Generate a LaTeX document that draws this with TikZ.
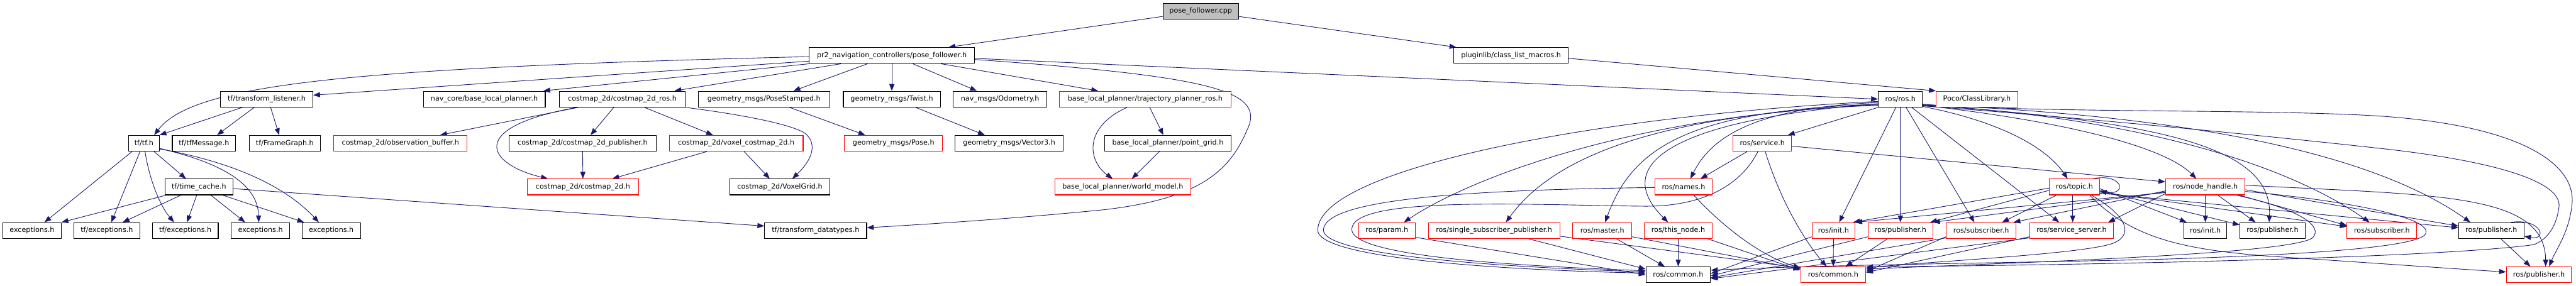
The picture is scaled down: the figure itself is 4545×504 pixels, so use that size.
\documentclass[tikz,border=0pt]{standalone}
\usepackage{fontspec}
\setmainfont{DejaVu Sans}
\usetikzlibrary{arrows.meta,calc,backgrounds}
\definecolor{edgec}{HTML}{191970}
\definecolor{redb}{HTML}{FF0000}
\definecolor{grayf}{HTML}{BFBFBF}
\begin{document}
\begin{tikzpicture}[x=1pt,y=-1pt,
  nb/.style={draw=black, line width=1.2pt, minimum height=28pt, inner sep=0pt, fill=white, font=\fontsize{12.4pt}{14pt}\selectfont},
  nr/.style={nb, draw=redb},
  ng/.style={nb, fill=grayf},
  e/.style={draw=edgec, line width=1pt, -{Triangle[length=12pt,width=9pt]}}]
\useasboundingbox (0,0) rectangle (4545,504);
% row 0,1
\node[ng, minimum width=133pt] (cpp) at (2118.5,20) {pose\_follower.cpp};
\node[nb, minimum width=291pt] (pf) at (1573.5,98) {pr2\_navigation\_controllers/pose\_follower.h};
\node[nb, minimum width=202pt] (plm) at (2666,98) {pluginlib/class\_list\_macros.h};
% row 2
\node[nb, minimum width=163pt] (tl) at (470.5,175) {tf/transform\_listener.h};
\node[nb, minimum width=215pt] (ncb) at (854.5,175) {nav\_core/base\_local\_planner.h};
\node[nb, minimum width=222pt] (cros) at (1098,175) {costmap\_2d/costmap\_2d\_ros.h};
\node[nb, minimum width=232pt] (ps) at (1348,175) {geometry\_msgs/PoseStamped.h};
\node[nb, minimum width=171pt] (tw) at (1573.5,175) {geometry\_msgs/Twist.h};
\node[nb, minimum width=165pt] (od) at (1764.5,175) {nav\_msgs/Odometry.h};
\node[nr, minimum width=303pt] (tpr) at (2020.5,175) {base\_local\_planner/trajectory\_planner\_ros.h};
\node[nb, minimum width=78pt] (ros) at (3353,175) {ros/ros.h};
\node[nr, minimum width=144pt] (poco) at (3488,175) {Poco/ClassLibrary.h};
% row 3
\node[nb, minimum width=54pt] (tf) at (254,253) {tf/tf.h};
\node[nb, minimum width=112pt] (tfm) at (360,253) {tf/tfMessage.h};
\node[nb, minimum width=125pt] (fg) at (502.5,253) {tf/FrameGraph.h};
\node[nr, minimum width=235pt] (ob) at (706.5,253) {costmap\_2d/observation\_buffer.h};
\node[nb, minimum width=260pt] (cpub) at (1028,253) {costmap\_2d/costmap\_2d\_publisher.h};
\node[nr, minimum width=236pt] (vc) at (1299,253) {costmap\_2d/voxel\_costmap\_2d.h};
\node[nr, minimum width=173pt] (pose) at (1576.5,253) {geometry\_msgs/Pose.h};
\node[nb, minimum width=191pt] (v3) at (1780.5,253) {geometry\_msgs/Vector3.h};
\node[nb, minimum width=223pt] (pg) at (2060.5,253) {base\_local\_planner/point\_grid.h};
\node[nr, minimum width=103pt] (srv) at (3109.5,253) {ros/service.h};
% row 4
\node[nb, minimum width=120pt] (tc) at (351,330) {tf/time\_cache.h};
\node[nr, minimum width=197pt] (c2d) at (1028.5,330) {costmap\_2d/costmap\_2d.h};
\node[nb, minimum width=176pt] (vg) at (1376,330) {costmap\_2d/VoxelGrid.h};
\node[nr, minimum width=240pt] (wm) at (1981,330) {base\_local\_planner/world\_model.h};
\node[nr, minimum width=101pt] (names) at (2970.5,330) {ros/names.h};
\node[nr, minimum width=88pt] (topic) at (3660,330) {ros/topic.h};
\node[nr, minimum width=140pt] (nh) at (3891,330) {ros/node\_handle.h};
% row 5
\node[nb, minimum width=103pt] (ex1) at (56.5,407) {exceptions.h};
\node[nb, minimum width=117pt] (tfe1) at (188.5,407) {tf/exceptions.h};
\node[nb, minimum width=116pt] (tfe2) at (327,407) {tf/exceptions.h};
\node[nb, minimum width=103pt] (ex2) at (459.5,407) {exceptions.h};
\node[nb, minimum width=103pt] (ex3) at (584.5,407) {exceptions.h};
\node[nb, minimum width=180pt] (td) at (1439,407) {tf/transform\_datatypes.h};
\node[nr, minimum width=100pt] (param) at (2447,407) {ros/param.h};
\node[nr, minimum width=232pt] (ssp) at (2636,407) {ros/single\_subscriber\_publisher.h};
\node[nr, minimum width=104pt] (master) at (2827,407) {ros/master.h};
\node[nr, minimum width=120pt] (thisn) at (2961,407) {ros/this\_node.h};
\node[nr, minimum width=76pt] (init1) at (3235,407) {ros/init.h};
\node[nr, minimum width=114pt] (pub1) at (3353,407) {ros/publisher.h};
\node[nr, minimum width=123pt] (sub1) at (3495.5,407) {ros/subscriber.h};
\node[nr, minimum width=148pt] (ss) at (3655,407) {ros/service\_server.h};
\node[nb, minimum width=76pt] (init2) at (3891,407) {ros/init.h};
\node[nb, minimum width=115pt] (pub2) at (4009.5,407) {ros/publisher.h};
\node[nr, minimum width=123pt] (sub2) at (4202.5,407) {ros/subscriber.h};
\node[nb, minimum width=115pt] (pub3) at (4395.5,407) {ros/publisher.h};
% row 6
\node[nb, minimum width=114pt] (com1) at (2961,485) {ros/common.h};
\node[nr, minimum width=115pt] (com2) at (3234.5,485) {ros/common.h};
\node[nr, minimum width=115pt] (pub4) at (4479.5,485) {ros/publisher.h};

\begin{scope}[on background layer]
\fill[white] (0,0) rectangle (4545,504);
% top
\draw[e] ([yshift=-9pt]cpp.west) -- ([xshift=100pt]pf.north);
\draw[e] ([yshift=-9pt]cpp.east) -- ([xshift=5pt]plm.north west);
% pose_follower.h
\draw[e] ([yshift=-2pt]pf.west) .. controls (600,120) and (340,150) .. ([xshift=18pt]tf.north);
\draw[e] ([yshift=-10pt]pf.west) -- ([yshift=7pt]tl.east);
\draw[e] (pf.south west) -- ([xshift=-4pt]ncb.north east);
\draw[e] ([xshift=-90pt]pf.south) -- ([xshift=92pt]cros.north);
\draw[e] ([xshift=-43pt]pf.south) -- ([xshift=52pt]ps.north);
\draw[e] (pf.south) -- (tw.north);
\draw[e] ([xshift=37pt]pf.south) -- ([xshift=-41pt]od.north);
\draw[e] ([xshift=87pt]pf.south) -- ([xshift=-83pt]tpr.north);
\draw[e] ([yshift=-5pt]pf.east) -- (ros.west);
\draw[e] ([yshift=-7pt]pf.east) .. controls (2140,135) and (2235,160) .. (2200,230) .. controls (2170,300) and (2120,350) .. (1950,370) .. controls (1800,385) and (1650,395) .. ([yshift=5pt]td.east);
% transform_listener
\draw[e] ([xshift=-43pt]tl.south) -- (tf.north east);
\draw[e] ([xshift=-22pt]tl.south) -- ([xshift=23pt]tfm.north);
\draw[e] ([xshift=7pt]tl.south) -- ([xshift=-10pt]fg.north);
% tf.h
\draw[e] ([xshift=-21pt]tf.south) -- ([xshift=22pt]ex1.north);
\draw[e] ([xshift=-7pt]tf.south) -- ([xshift=8pt]tfe1.north);
\draw[e] ([xshift=2pt]tf.south) .. controls (262,310) and (280,360) .. ([xshift=-20pt]tfe2.north);
\draw[e] ([xshift=18pt]tf.south) -- ([xshift=-23pt]tc.north);
\draw[e] ([yshift=-9pt]tf.east) .. controls (380,285) and (455,320) .. ([xshift=-3pt]ex2.north);
\draw[e] ([yshift=-10pt]tf.east) .. controls (390,282) and (495,320) .. ([xshift=-22pt]ex3.north);
% time_cache
\draw[e] ([xshift=-58pt]tc.south) -- (ex1.north east);
\draw[e] ([xshift=-32pt]tc.south) -- ([xshift=28pt]tfe1.north);
\draw[e] ([xshift=-4pt]tc.south) -- ([xshift=3pt]tfe2.north);
\draw[e] ([xshift=21pt]tc.south) -- ([xshift=-27pt]ex2.north);
\draw[e] ([xshift=42pt]tc.south) -- ([xshift=-48pt]ex3.north);
\draw[e] ([yshift=-3pt]tc.east) -- ([yshift=8pt]td.west);
% costmap
\draw[e] ([xshift=-78pt]cros.south) -- ([xshift=70pt]ob.north);
\draw[e] ([xshift=-80pt]cros.south) .. controls (820,225) and (860,290) .. ([xshift=-62pt]c2d.north);
\draw[e] ([xshift=-15pt]cros.south) -- ([xshift=14pt]cpub.north);
\draw[e] ([xshift=39pt]cros.south) -- ([xshift=-41pt]vc.north);
\draw[e] (cros.south east) .. controls (1330,205) and (1400,222) .. (1420,235) .. controls (1445,255) and (1430,285) .. ([xshift=22pt]vg.north);
\draw[e] (cpub.south) -- (c2d.north);
\draw[e] ([xshift=-52pt]vc.south) -- ([xshift=52pt]c2d.north);
\draw[e] ([xshift=14pt]vc.south) -- ([xshift=-18pt]vg.north);
\draw[e] ([xshift=45pt]ps.south) -- ([xshift=-50pt]pose.north);
\draw[e] ([xshift=42pt]tw.south) -- ([xshift=-43pt]v3.north);
\draw[e] ([xshift=-32pt]tpr.south) .. controls (1910,225) and (1920,285) .. ([xshift=-18pt]wm.north);
\draw[e] ([xshift=8pt]tpr.south) -- ([xshift=-8pt]pg.north);
\draw[e] ([xshift=-15pt]pg.south) -- ([xshift=16pt]wm.north);
\draw[e] ([yshift=-5pt]plm.east) -- (poco.north west);
% ros.h
\draw[e] (ros.south west) -- ([xshift=45pt]srv.north);
\draw[e] ([xshift=-8pt]ros.south) -- ([xshift=10pt]init1.north);
\draw[e] (ros.south) -- (pub1.north);
\draw[e] ([xshift=10pt]ros.south) -- ([xshift=-12pt]sub1.north);
\draw[e] ([xshift=20pt]ros.south) -- ([xshift=-22pt]ss.north);
\draw[e] ([yshift=-6pt]ros.west) .. controls (3100,190) and (3020,240) .. ([xshift=12pt]names.north);
\draw[e] ([yshift=-8pt]ros.west) .. controls (2950,212) and (2840,290) .. ([xshift=-18pt]thisn.north);
\draw[e] ([yshift=-9pt]ros.west) .. controls (2980,195) and (2880,260) .. ([xshift=5pt]master.north);
\draw[e] ([yshift=-10pt]ros.west) .. controls (3000,200) and (2760,250) .. ([xshift=21pt]ssp.north);
\draw[e] ([yshift=-11pt]ros.west) .. controls (2900,200) and (2600,310) .. ([xshift=30pt]param.north);
\draw[e] ([yshift=-4pt]ros.west) .. controls (2800,205) and (2330,300) .. (2325,405) .. controls (2320,460) and (2700,478) .. ([yshift=3pt]com1.west);
\draw[e] ([yshift=-13pt]ros.east) .. controls (3530,215) and (3610,260) .. ([xshift=-12pt]topic.north);
\draw[e] ([yshift=-11pt]ros.east) .. controls (3650,215) and (3820,260) .. ([xshift=-16pt]nh.north);
\draw[e] ([yshift=-11pt]ros.east) .. controls (3850,215) and (4010,270) .. ([xshift=-6pt]pub2.north);
\draw[e] ([yshift=-10pt]ros.east) .. controls (3800,210) and (4050,300) .. ([xshift=-22pt]sub2.north);
\draw[e] ([yshift=-10pt]ros.east) .. controls (3900,205) and (4200,280) .. ([xshift=-37pt]pub3.north);
\draw[e] ([yshift=-9pt]ros.east) .. controls (3600,200) and (4000,192) .. (4200,205) .. controls (4450,222) and (4545,290) .. (4538,360) .. controls (4533,410) and (4510,440) .. ([xshift=18pt]pub4.north);
\draw[e] ([yshift=-12pt]ros.east) .. controls (3700,210) and (4000,240) .. (4200,262) .. controls (4400,284) and (4520,320) .. (4515,365) .. controls (4510,405) and (4490,425) .. (4470,432) .. controls (4300,455) and (3700,468) .. ([yshift=14pt]com2.east);
% service.h
\draw[e] ([xshift=-27pt]srv.south) -- ([xshift=30pt]names.north);
\draw[e] ([xshift=5pt]srv.south) .. controls (3140,350) and (3180,420) .. ([xshift=-12pt]com2.north);
\draw[e] ([yshift=-5pt]srv.east) -- ([yshift=9pt]nh.west);
\draw[e] ([xshift=-8pt]srv.south) .. controls (3070,330) and (3000,365) .. (2900,364) .. controls (2700,362) and (2385,345) .. (2385,405) .. controls (2385,455) and (2700,470) .. ([yshift=7pt]com1.west);
% names.h
\draw[e] ([yshift=-1pt]names.west) .. controls (2600,335) and (2340,350) .. (2335,405) .. controls (2330,455) and (2700,473) .. ([yshift=5pt]com1.west);
\draw[e] ([xshift=18pt]names.south) .. controls (3030,390) and (3100,450) .. ([yshift=12pt]com2.west);
% row 5 to common
\draw[e] ([yshift=-12pt]param.east) -- (com1.west);
\draw[e] ([xshift=61pt]ssp.south) -- ([yshift=10pt]com1.west);
\draw[e] ([yshift=-10pt]ssp.east) -- ([yshift=12pt]com2.west);
\draw[e] ([xshift=25pt]master.south) -- ([xshift=-24pt]com1.north);
\draw[e] ([yshift=-11pt]master.east) -- ([yshift=10pt]com2.west);
\draw[e] (thisn.south) -- (com1.north);
\draw[e] ([xshift=52pt]thisn.south) -- ([yshift=8pt]com2.west);
\draw[e] (init1.south) -- (com2.north);
\draw[e] ([yshift=-11pt]init1.west) -- ([yshift=2pt]com1.east);
\draw[e] ([xshift=-23pt]pub1.south) -- ([xshift=22pt]com2.north);
\draw[e] ([yshift=-11pt]pub1.west) -- ([yshift=-2pt]com1.east);
\draw[e] ([yshift=-11pt]sub1.west) -- ([yshift=6pt]com2.east);
\draw[e] ([yshift=-13pt]sub1.west) -- ([yshift=-5pt]com1.east);
\draw[e] ([yshift=-11pt]ss.west) -- ([yshift=4pt]com2.east);
\draw[e] ([yshift=-13pt]ss.west) -- ([yshift=-7pt]com1.east);
% topic.h
\draw[e] ([xshift=33pt]topic.north) .. controls (3745,305) and (3755,345) .. ([yshift=-8pt]topic.east);
\draw[e] ([xshift=-32pt]topic.south) -- ([xshift=37pt]sub1.north);
\draw[e] ([xshift=-3pt]topic.south) -- ([xshift=2pt]ss.north);
\draw[e] ([yshift=-2pt]topic.west) -- ([xshift=-4pt]init1.north east);
\draw[e] ([yshift=-6pt]topic.west) -- ([xshift=-5pt]pub1.north east);
\draw[e] ([yshift=-3pt]topic.east) -- ([xshift=-33pt]init2.north);
\draw[e] ([yshift=-6pt]topic.east) -- ([yshift=10pt]pub2.west);
\draw[e] ([yshift=-9pt]topic.east) -- ([yshift=7pt]sub2.west);
\draw[e] ([yshift=-11pt]topic.east) -- ([yshift=5pt]pub3.west);
\draw[e] ([xshift=27pt]topic.south) .. controls (3760,420) and (3850,440) .. (4000,452) .. controls (4200,465) and (4350,476) .. ([yshift=5pt]pub4.west);
\draw[e] ([xshift=30pt]topic.south) .. controls (3760,385) and (3765,420) .. (3720,432) .. controls (3650,450) and (3400,462) .. ([yshift=12pt]com2.east);
% node_handle.h
\draw[e] (nh.south) -- (init2.north);
\draw[e] ([xshift=22pt]nh.south) -- ([xshift=-30pt]pub2.north);
\draw[e] ([xshift=60pt]nh.south) -- ([yshift=9pt]sub2.west);
\draw[e] ([yshift=-5pt]nh.east) -- ([yshift=8pt]pub3.west);
\draw[e] ([yshift=3pt]nh.east) .. controls (4300,345) and (4490,340) .. ([xshift=12pt]pub4.north);
\draw[e] ([yshift=-7pt]nh.west) -- ([xshift=-5pt]sub1.north east);
\draw[e] ([yshift=-12pt]nh.west) -- ([xshift=-10pt]ss.north east);
\draw[e] ([yshift=-9pt]nh.west) -- (pub1.north east);
\draw[e] ([yshift=-10pt]nh.west) -- (init1.north east);
\draw[e] ([xshift=55pt]nh.south) .. controls (4060,370) and (4100,400) .. (4080,420) .. controls (4040,448) and (3600,462) .. ([yshift=10pt]com2.east);
\draw[e] ([yshift=-8pt]nh.east) .. controls (4150,355) and (4290,385) .. (4280,412) .. controls (4270,440) and (4000,452) .. (3800,458) .. controls (3500,465) and (3200,468) .. ([yshift=8pt]com1.east);
% publisher.h (black)
\draw[e] ([xshift=35pt]pub3.north) .. controls (4485,385) and (4495,425) .. ([yshift=-10pt]pub3.east);
\draw[e] ([xshift=17pt]pub3.south) -- ([xshift=-15pt]pub4.north);
\end{scope}
\end{tikzpicture}
\end{document}
